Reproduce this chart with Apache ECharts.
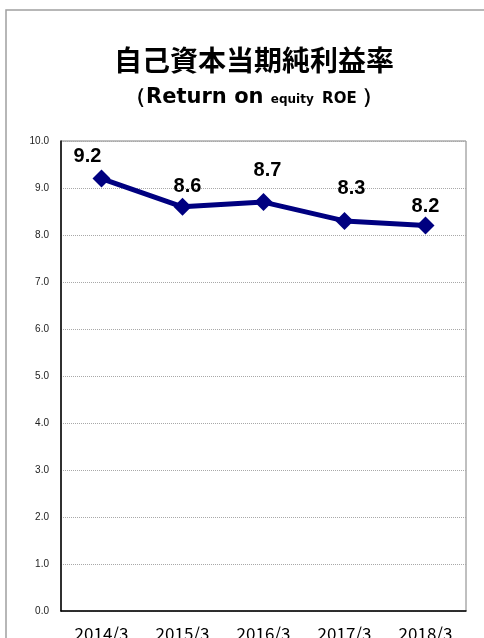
<!DOCTYPE html>
<html>
<head>
<meta charset="utf-8">
<script src="https://cdn.jsdelivr.net/npm/echarts@6/dist/echarts.min.js"></script>
<style>
  html, body { margin: 0; padding: 0; background: #fff; }
  #roeChart { width: 484px; height: 638px; }
</style>
</head>
<body>
<div id="roeChart"></div>
<script>
// data
var periods = ["2014/3", "2015/3", "2016/3", "2017/3", "2018/3"];
var roeValues = [9.2, 8.6, 8.7, 8.3, 8.2];

// hand-placed label nudges, as in the original sheet
var labelNudge = [[-14, 1], [5, 3], [4, -9], [7, -9], [0, 4]];

var roeChart = echarts.init(document.getElementById("roeChart"));

var seriesData = roeValues.map(function (v, i) {
  return { value: v, label: { offset: labelNudge[i] } };
});

var option = {
  backgroundColor: "#ffffff",
  animation: false,
  graphic: [
    {
      // outer frame (left + top edges)
      type: "polyline",
      shape: { points: [[6, 640], [6, 10], [490, 10]] },
      style: { stroke: "#a0a0a0", lineWidth: 1.5, fill: null },
    },
    {
      type: "rect",
      shape: { x: 61, y: 141, width: 405, height: 470 },
      style: { stroke: "#808080", lineWidth: 1, fill: null },
      z: -1,
    },
  ],
  title: [
    {
      text: "自己資本当期純利益率",
      left: 249,
      top: 41,
      textAlign: "center",
      textStyle: {
        fontFamily: "Noto Sans CJK JP",
        fontSize: 28,
        fontWeight: "bold",
        color: "#000",
      },
    },
    {
      text: "{big|（Return on }{small|equity  }{mid|ROE }{big|）}",
      left: 249,
      top: 82,
      textAlign: "center",
      textStyle: {
        rich: {
          big: {
            fontFamily: "DejaVu Sans",
            fontSize: 21,
            fontWeight: "bold",
            color: "#000",
          },
          small: {
            fontFamily: "DejaVu Sans",
            fontSize: 12,
            fontWeight: "bold",
            color: "#000",
            padding: [5, 0, 0, 0],
          },
          mid: {
            fontFamily: "DejaVu Sans",
            fontSize: 15,
            fontWeight: "bold",
            color: "#000",
            padding: [3, 0, 0, 0],
          },
        },
      },
    },
  ],
  grid: { left: 61, right: 18, top: 141, bottom: 27, outerBoundsMode: "none" },
  xAxis: {
    type: "category",
    data: periods,
    boundaryGap: true,
    axisLine: { lineStyle: { color: "#000", width: 1.5 } },
    axisTick: { inside: true, length: 5, lineStyle: { color: "#999" } },
    axisLabel: {
      margin: 14,
      fontFamily: "Noto Sans CJK JP",
      fontSize: 17,
      color: "#000",
    },
  },
  yAxis: {
    type: "value",
    min: 0,
    max: 10,
    interval: 1,
    axisLine: { show: true, lineStyle: { color: "#000", width: 1.5 } },
    axisTick: { show: false },
    axisLabel: {
      formatter: function (v) { return v.toFixed(1); },
      margin: 12,
      fontFamily: "Liberation Sans",
      fontSize: 10,
      color: "#222",
    },
    splitLine: { lineStyle: { color: "#a8a8a8", type: "dotted", width: 1 } },
  },
  series: [
    {
      name: "ROE",
      type: "line",
      data: seriesData,
      symbol: "diamond",
      symbolSize: 18,
      lineStyle: { color: "#000080", width: 5 },
      itemStyle: { color: "#000080" },
      label: {
        show: true,
        position: "top",
        distance: 4,
        formatter: function (p) { return p.value.toFixed(1); },
        fontFamily: "Liberation Sans",
        fontSize: 20,
        fontWeight: "bold",
        color: "#000",
      },
    },
  ],
};
roeChart.setOption(option);
</script>
</body>
</html>
